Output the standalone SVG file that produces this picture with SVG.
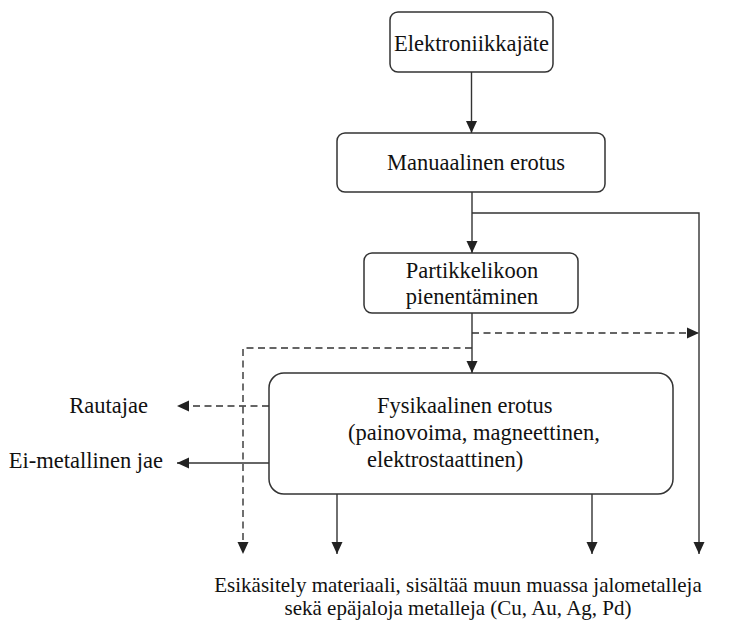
<svg xmlns="http://www.w3.org/2000/svg" width="733" height="627" viewBox="0 0 733 627">
<style>
.box{fill:#fff;stroke:#333;stroke-width:1.5}
.t{font-family:"Liberation Serif","Times New Roman",serif;font-size:22.5px;fill:#111}
.c{text-anchor:middle}
.e{text-anchor:end}
.b{font-size:21px}
.ln{fill:none;stroke:#333;stroke-width:1.4}
.d{stroke-dasharray:7 4.5}
</style>
<defs>
<marker id="ah" markerUnits="userSpaceOnUse" markerWidth="12" markerHeight="12" viewBox="0 0 12 12" refX="12" refY="6" orient="auto">
<path d="M0,0.5 L12,6 L0,11.5 z" fill="#222"/>
</marker>
</defs>
<rect width="733" height="627" fill="#fff"/>
<g id="connectors">
<line class="ln" x1="471.5" y1="72" x2="471.5" y2="133" marker-end="url(#ah)"/>
<line class="ln" x1="472" y1="192" x2="472" y2="253" marker-end="url(#ah)"/>
<path class="ln" d="M472,213 H699 V554" marker-end="url(#ah)"/>
<line class="ln" x1="472" y1="313" x2="472" y2="373" marker-end="url(#ah)"/>
<line class="ln d" x1="472" y1="333" x2="699" y2="333" marker-end="url(#ah)"/>
<path class="ln d" d="M472,348 H243 V554" marker-end="url(#ah)"/>
<line class="ln d" x1="269" y1="406" x2="177" y2="406" marker-end="url(#ah)"/>
<line class="ln" x1="269" y1="463" x2="177" y2="463" marker-end="url(#ah)"/>
<line class="ln" x1="337" y1="494" x2="337" y2="554" marker-end="url(#ah)"/>
<line class="ln" x1="592" y1="494" x2="592" y2="554" marker-end="url(#ah)"/>
</g>
<g id="n1">
<rect class="box" x="390" y="12" width="163" height="60" rx="8"/>
<text class="t c" x="471.5" y="51">Elektroniikkajäte</text>
</g>
<g id="n2">
<rect class="box" x="337" y="133" width="268" height="59" rx="8"/>
<text class="t c" x="476" y="170">Manuaalinen erotus</text>
</g>
<g id="n3">
<rect class="box" x="364" y="253" width="214" height="60" rx="8"/>
<text class="t c" x="472" y="278">Partikkelikoon</text>
<text class="t c" x="472" y="304">pienentäminen</text>
</g>
<g id="n4">
<rect class="box" x="269" y="373" width="404" height="121" rx="15"/>
<text class="t" x="377" y="413">Fysikaalinen erotus</text>
<text class="t" x="348" y="440">(painovoima, magneettinen,</text>
<text class="t" x="367" y="467">elektrostaattinen)</text>
</g>
<g id="rautajae">
<text class="t e" x="148" y="413">Rautajae</text>
</g>
<g id="eimetallinen">
<text class="t e" x="163" y="468">Ei-metallinen jae</text>
</g>
<g id="output">
<text class="t c b" x="458" y="592">Esikäsitely materiaali, sisältää muun muassa jalometalleja</text>
<text class="t c b" x="458" y="615">sekä epäjaloja metalleja (Cu, Au, Ag, Pd)</text>
</g>
</svg>
